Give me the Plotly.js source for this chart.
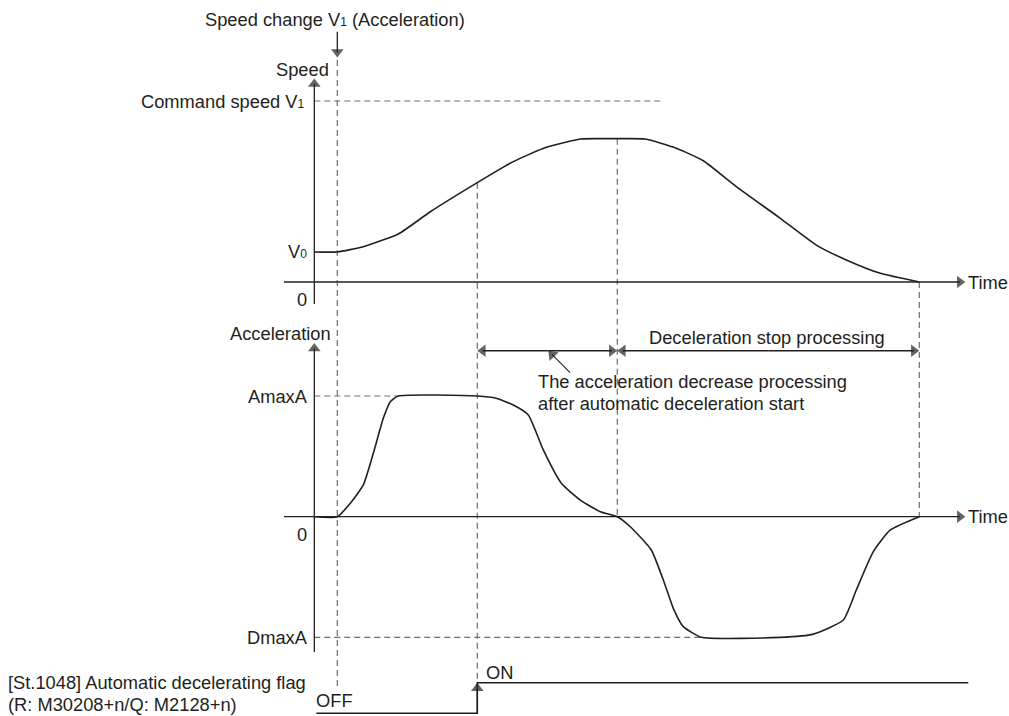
<!DOCTYPE html>
<html>
<head>
<meta charset="utf-8">
<script src="https://cdn.plot.ly/plotly-3.0.1.min.js"></script>
<style>html,body{margin:0;padding:0;background:#fff;}#chart{width:1009px;height:716px;}</style>
</head>
<body>
<div id="chart"></div>
<script>
// ---- data (time in arbitrary units from the axis origin) ----
const speedTime   = [0, 23, 49, 84, 116, 163, 199, 232, 266, 285, 303, 331, 362, 389, 422, 466, 502, 532, 566, 605];
const speedValues = [16.6, 16.6, 19.5, 26.5, 38.8, 54.9, 66.5, 74.4, 79.0, 79.2, 79.2, 79.0, 73.9, 67.0, 52.7, 35.2, 20.4, 12.2, 4.8, 0];   // % of command speed V1

const accelTime   = [0, 23, 36, 49, 59, 69, 76, 84, 163, 182, 199, 214, 229, 247, 266, 286, 303, 316, 337, 349, 359, 369, 387, 466, 499, 529, 542, 559, 576, 605];
const accelValues = [0, 0, 11.1, 26.3, 52.5, 81.5, 95.3, 100, 100, 98.1, 92.5, 84.3, 55.3, 27.7, 13.8, 4.1, 0, -8.3, -27.6, -52.4, -75.9, -91.1, -99.9, -100, -97.3, -85.6, -60.7, -29, -11, 0]; // % of AmaxA / DmaxA

const flagTime   = [2, 163, 654];
const flagValues = [0, 1, 1];   // 0 = OFF, 1 = ON

const T_SPEED_CHANGE = 23;
const T_AUTO_DECEL   = 163;
const T_ACCEL_ZERO   = 303;
const T_STOP         = 605;
const V0 = 16.6, V1 = 100, AMAX = 100, DMAX = -100;

// ---- layout helpers ----
const W = 1009, H = 716;
const X_RANGE     = [-314.3, 694.7];
const SPEED_RANGE = [-239.78, 155.80];
const ACCEL_RANGE = [-165.12, 428.09];
const FLAG_RANGE  = [-0.0882, 23.31];
const RANGES = {y: SPEED_RANGE, y2: ACCEL_RANGE, y3: FLAG_RANGE};
const INK = '#231f20', DASH = '#6d6e71';
const FONT = {family: '"Liberation Sans", Arial, sans-serif', size: 18.3, color: INK};
const SUB = s => '<span style="font-size:12px">' + s + '</span>';

function yPaper(r, v) { return (v - r[0]) / (r[1] - r[0]); }
function P(py) { return 1 - py / H; }
function X(px) { return px / W; }
function valAt(ts, vs, t) { return vs[ts.indexOf(t)]; }
function speedFromPx(py) { return SPEED_RANGE[1] - py / H * (SPEED_RANGE[1] - SPEED_RANGE[0]); }

const HEAD = 11;            // triangle marker size (px)
const TIP = HEAD / 2;       // distance from marker centre to its tip (px)
// line from (x0,y0) to the tip (x1,y1) with a filled triangular head at the tip
function arrowTrace(x0, y0, x1, y1, yaxis, width) {
  const xppu = W / (X_RANGE[1] - X_RANGE[0]);
  const r = RANGES[yaxis], yppu = H / (r[1] - r[0]);
  const dx = (x1 - x0) * xppu, dy = (y1 - y0) * yppu;
  const k = TIP / Math.hypot(dx, dy);
  const xe = x1 - (x1 - x0) * k, ye = y1 - (y1 - y0) * k;
  return {x: [x0, xe], y: [y0, ye], xaxis: 'x', yaxis, mode: 'lines+markers', hoverinfo: 'skip',
    line: {color: INK, width: width || 1.3},
    marker: {symbol: 'triangle-up', size: [0, HEAD], angleref: 'previous', color: INK, line: {width: 0}}};
}
function label(text, px, py, xanchor) {
  return {text, x: X(px), y: P(py), xref: 'paper', yref: 'paper', xanchor, yanchor: 'middle', showarrow: false, font: FONT};
}
function labelY(text, px, v, yref, xanchor) {
  return {text, x: X(px), y: v, xref: 'paper', yref, xanchor, yanchor: 'middle', showarrow: false, font: FONT};
}
function dline(x0, y0, x1, y1, yref) {
  return {type: 'line', xref: 'x', yref, x0, y0, x1, y1, layer: 'below', line: {color: DASH, width: 1.2, dash: '6px,4px'}};
}

const RANGE_ARROW_Y = 137.5;
const traces = [
  {x: speedTime, y: speedValues, xaxis: 'x', yaxis: 'y', mode: 'lines', hoverinfo: 'skip',
   line: {color: INK, width: 1.6, shape: 'spline', smoothing: 0.5}},
  {x: accelTime, y: accelValues, xaxis: 'x', yaxis: 'y2', mode: 'lines', hoverinfo: 'skip',
   line: {color: INK, width: 1.6, shape: 'spline', smoothing: 0.5}},
  {x: flagTime, y: flagValues, xaxis: 'x', yaxis: 'y3', mode: 'lines', hoverinfo: 'skip',
   line: {color: INK, width: 1.6, shape: 'hv'}},
  // axes with arrowheads
  arrowTrace(0, -12.15, 0, 112.4, 'y'),
  arrowTrace(-30.3, 0, 651, 0, 'y'),
  arrowTrace(0, -112.1, 0, 144, 'y2'),
  arrowTrace(-30.3, 0, 651, 0, 'y2'),
  // speed change marker
  arrowTrace(T_SPEED_CHANGE, speedFromPx(31.7), T_SPEED_CHANGE, speedFromPx(57.5), 'y'),
  // flag switching arrow
  arrowTrace(T_AUTO_DECEL, 0, T_AUTO_DECEL, 1, 'y3'),
  // range arrows (double-headed)
  arrowTrace((T_AUTO_DECEL + T_ACCEL_ZERO) / 2, RANGE_ARROW_Y, T_AUTO_DECEL, RANGE_ARROW_Y, 'y2'),
  arrowTrace((T_AUTO_DECEL + T_ACCEL_ZERO) / 2, RANGE_ARROW_Y, T_ACCEL_ZERO, RANGE_ARROW_Y, 'y2'),
  arrowTrace((T_ACCEL_ZERO + T_STOP) / 2, RANGE_ARROW_Y, T_ACCEL_ZERO, RANGE_ARROW_Y, 'y2'),
  arrowTrace((T_ACCEL_ZERO + T_STOP) / 2, RANGE_ARROW_Y, T_STOP, RANGE_ARROW_Y, 'y2'),
  // pointer
  arrowTrace(255.7, 119.3, 234, 137.5, 'y2', 1.1)
];

const shapes = [
  dline(0, V1, 347.4, V1, 'y'),
  dline(0, AMAX, 84, AMAX, 'y2'),
  dline(0, DMAX, 387.4, DMAX, 'y2'),
  dline(T_SPEED_CHANGE, P(60), T_SPEED_CHANGE, P(690), 'paper'),
  dline(T_AUTO_DECEL, yPaper(SPEED_RANGE, valAt(speedTime, speedValues, T_AUTO_DECEL)), T_AUTO_DECEL, yPaper(FLAG_RANGE, 1), 'paper'),
  dline(T_ACCEL_ZERO, yPaper(SPEED_RANGE, valAt(speedTime, speedValues, T_ACCEL_ZERO)), T_ACCEL_ZERO, yPaper(ACCEL_RANGE, 0), 'paper'),
  dline(T_STOP, yPaper(SPEED_RANGE, 0), T_STOP, yPaper(ACCEL_RANGE, 0), 'paper')
];

const annotations = [
  label('Speed change V' + SUB('1') + ' (Acceleration)', 203, 19, 'left'),
  label('Speed', 331, 70, 'right'),
  labelY('Command speed V' + SUB('1'), 307, V1, 'y', 'right'),
  labelY('V' + SUB('0'), 309, V0, 'y', 'right'),
  label('0', 309, 300, 'right'),
  label('Acceleration', 333, 333, 'right'),
  labelY('AmaxA', 310, AMAX, 'y2', 'right'),
  label('0', 309, 534, 'right'),
  labelY('DmaxA', 310, DMAX, 'y2', 'right'),
  labelY('Time', 966, 0, 'y', 'left'),
  labelY('Time', 966, 0, 'y2', 'left'),
  {text: 'Deceleration stop processing', x: X(767), y: P(337), xref: 'paper', yref: 'paper', xanchor: 'center', yanchor: 'middle', showarrow: false, font: FONT},
  label('The acceleration decrease processing', 536, 381.5, 'left'),
  label('after automatic deceleration start', 536, 403, 'left'),
  label('[St.1048] Automatic decelerating flag', 6, 682.5, 'left'),
  label('(R: M30208+n/Q: M2128+n)', 6, 704, 'left'),
  label('OFF', 314, 700, 'left'),
  label('ON', 484, 672, 'left')
];

const layout = {
  width: W, height: H, margin: {l: 0, r: 0, t: 0, b: 0},
  paper_bgcolor: '#fff', plot_bgcolor: '#fff', showlegend: false,
  font: FONT,
  xaxis: {range: X_RANGE, visible: false, fixedrange: true},
  yaxis: {range: SPEED_RANGE, visible: false, fixedrange: true},
  yaxis2: {range: ACCEL_RANGE, visible: false, overlaying: 'y', fixedrange: true},
  yaxis3: {range: FLAG_RANGE, visible: false, overlaying: 'y', fixedrange: true},
  shapes, annotations
};

Plotly.newPlot('chart', traces, layout, {displayModeBar: false, staticPlot: true});
</script>
</body>
</html>
